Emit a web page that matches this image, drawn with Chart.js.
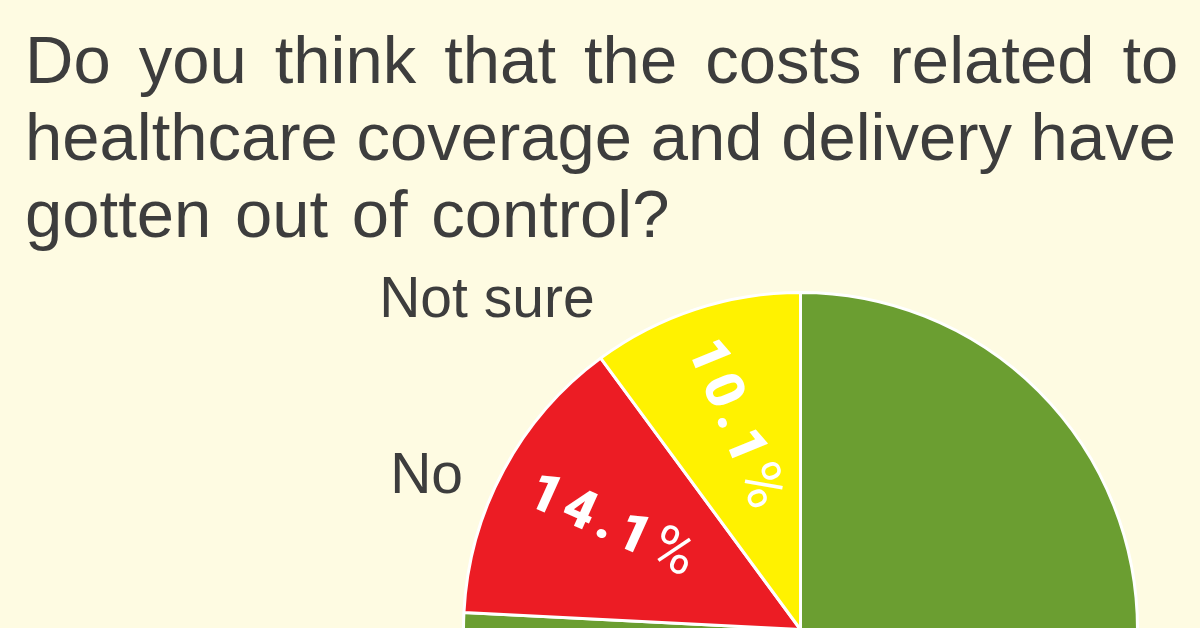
<!DOCTYPE html>
<html lang="en">
<head>
  <meta charset="UTF-8">
  <title>Healthcare costs poll</title>
  <script src="https://cdn.jsdelivr.net/npm/chart.js"></script>
  <style>
    html, body {
      margin: 0;
      width: 1200px;
      height: 628px;
      overflow: hidden;
      background: #fefbe2;
    }
    h1 {
      position: absolute;
      left: 25px;
      top: 21px;
      margin: 0;
      font-family: "Liberation Sans", Arial, sans-serif;
      font-weight: normal;
      font-size: 67px;
      line-height: 77px;
      color: #3d3d3d;
      white-space: nowrap;
      z-index: 2;
    }
    h1 span { display: block; }
    .l1 { word-spacing: 9.4px; }
    .l3 { word-spacing: 5px; }
    #grafico {
      position: absolute;
      left: 0;
      top: 0;
    }
  </style>
</head>
<body>

  <canvas id="grafico" width="1200" height="968"></canvas>
  <h1><span class="l1">Do you think that the costs related to</span><span class="l2">healthcare coverage and delivery have</span><span class="l3">gotten out of control?</span></h1>

  <script>
    const categorias = ["Yes", "No", "Not sure"];
    const valores = [75.8, 14.1, 10.1];
    const cores = ["#6b9e31", "#ec1c24", "#fff200"];

    // rótulos de fora: ângulo (graus, sentido do canvas) e distância relativa ao raio
    const rotulosFora = {
      "No": { angulo: 202, dist: 1.08 },
      "Not sure": { angulo: 236.6, dist: 1.11 }
    };

    // desenha caractere a caractere: números em negrito, "%" normal, com espaçamento largo
    function textoEspacado(ctx, texto, espaco) {
      const fonte = ch => (ch === "%" ? "58px " : "900 54px ") + "Roboto, 'Liberation Sans', Arial, sans-serif";
      let total = 0;
      for (const ch of texto) {
        ctx.font = fonte(ch);
        total += ctx.measureText(ch).width + espaco;
      }
      total -= espaco;
      let x = -total / 2;
      for (const ch of texto) {
        ctx.font = fonte(ch);
        ctx.fillText(ch, x, 0);
        x += ctx.measureText(ch).width + espaco;
      }
    }

    const rotulosPlugin = {
      id: "rotulos",
      afterDatasetsDraw(chart) {
        const ctx = chart.ctx;
        const meta = chart.getDatasetMeta(0);
        meta.data.forEach((arc, i) => {
          const r = arc.outerRadius;
          const meio = (arc.startAngle + arc.endAngle) / 2;

          // percentagem dentro da fatia, ao longo do raio
          ctx.save();
          ctx.translate(arc.x + Math.cos(meio) * r * 0.64, arc.y + Math.sin(meio) * r * 0.64);
          ctx.rotate(meio + Math.PI - 4 * Math.PI / 180);
          ctx.fillStyle = "#ffffff";
          ctx.textAlign = "left";
          ctx.textBaseline = "middle";
          textoEspacado(ctx, valores[i].toFixed(1) + "%", 6);
          ctx.restore();

          const fora = rotulosFora[categorias[i]];
          if (fora) {
            const a = fora.angulo * Math.PI / 180;
            ctx.save();
            ctx.font = "57px 'Liberation Sans', Arial, sans-serif";
            ctx.fillStyle = "#3d3d3d";
            ctx.textAlign = "right";
            ctx.textBaseline = "alphabetic";
            ctx.fillText(categorias[i], arc.x + Math.cos(a) * r * fora.dist, arc.y + Math.sin(a) * r * fora.dist);
            ctx.restore();
          }
        });
      }
    };

    new Chart(document.getElementById("grafico"), {
      type: "pie",
      data: {
        labels: categorias,
        datasets: [{
          data: valores,
          backgroundColor: cores,
          borderColor: "#ffffff",
          borderWidth: 3
        }]
      },
      options: {
        responsive: false,
        animation: false,
        layout: {
          padding: { left: 462, right: 61, top: 291, bottom: 0 }
        },
        plugins: {
          legend: { display: false },
          tooltip: { enabled: false }
        }
      },
      plugins: [rotulosPlugin]
    });
  </script>
</body>
</html>
